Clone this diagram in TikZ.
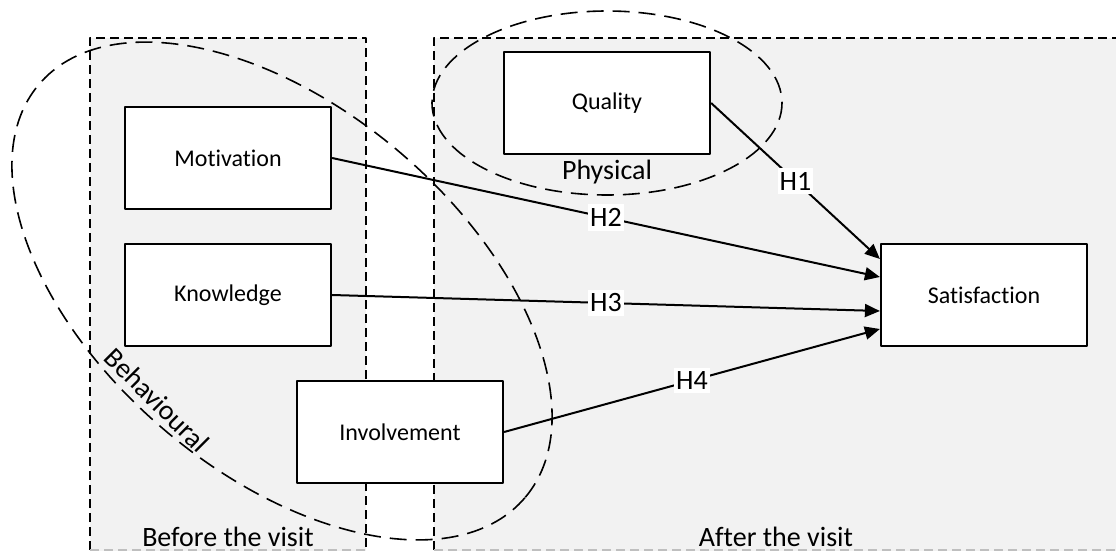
\documentclass[tikz,border=0pt]{standalone}
\usepackage{fontspec}
\setmainfont{Carlito}[Ligatures=NoCommon]
\usetikzlibrary{arrows.meta}
\definecolor{panelgray}{HTML}{F2F2F2}
\definecolor{edgegray}{HTML}{BFBFBF}
\begin{document}
\begin{tikzpicture}[>={Triangle[length=7.5pt,width=6.5pt]},line join=round,x=0.5pt,y=-0.5pt]
	\tikzset{
		box/.style={draw,line width=1.1pt,fill=white,minimum width=103pt,minimum height=51pt,font=\fontsize{12}{14}\selectfont},
		hyp/.style={fill=white,inner xsep=1pt,inner ysep=2pt,font=\fontsize{14}{16}\selectfont},
		zone/.style={line width=1pt,dash pattern=on 4.5pt off 2.5pt},
		group/.style={line width=0.8pt,dash pattern=on 8.5pt off 4.5pt},
		lbl/.style={font=\fontsize{14}{16}\selectfont}
	}
	\useasboundingbox (0,0) rectangle (1116,551);
	% panels
	\fill[panelgray] (90,38) rectangle (366,551);
	\fill[panelgray] (434,38) rectangle (1116,551);
	\draw[zone] (90,550)--(90,38)--(366,38)--(366,550);
	\draw[zone] (434,550)--(434,38)--(1116,38);
	\draw[zone,edgegray] (90,550)--(366,550);
	\draw[zone,edgegray] (434,550)--(1116,550);
	% groups
	\draw[group] (607,103) ellipse [x radius=175, y radius=92];
	\draw[group,rotate around={-40.4:(282,291)}] (282,291) ellipse [x radius=319, y radius=182];
	% constructs
	\node[box] (mot) at (228,158) {Motivation};
	\node[box] (kno) at (228,295) {Knowledge};
	\node[box] (inv) at (400,432) {Involvement};
	\node[box] (qua) at (607,103) {Quality};
	\node[box] (sat) at (984,295) {Satisfaction};
	\node[lbl] (phys) at (607,172) {Physical};
	\node[lbl,rotate=-45] (beh) at (157,400) {Behavioural};
	\node[lbl] (before) at (228,537) {Before the visit};
	\node[lbl] (after) at (776,537) {After the visit};
	% hypotheses
	\foreach \src/\dy/\h in {qua/18/H1,mot/9/H2,kno/-8/H3,inv/-17/H4}{
		\draw[->,line width=1pt] (\src.east)--([yshift=\dy pt]sat.west) node[midway,hyp]{\h};
	}
\end{tikzpicture}
\end{document}
